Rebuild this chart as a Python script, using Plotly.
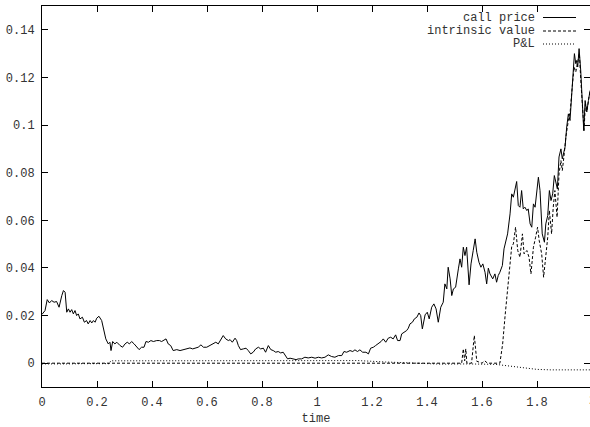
import plotly.graph_objects as go

# Call option simulation: price, intrinsic value and hedging P&L over time
call_t = [0.000, 0.011, 0.019, 0.027, 0.035, 0.044, 0.053, 0.062, 0.072, 0.078,
          0.084, 0.090, 0.096, 0.102, 0.108, 0.114, 0.120, 0.126, 0.132, 0.138,
          0.147, 0.154, 0.162, 0.168, 0.175, 0.181, 0.187, 0.193, 0.199, 0.207,
          0.217, 0.223, 0.232, 0.241, 0.247, 0.251, 0.257, 0.265, 0.272, 0.284,
          0.293, 0.302, 0.310, 0.318, 0.326, 0.335, 0.344, 0.353, 0.362, 0.371,
          0.378, 0.387, 0.396, 0.405, 0.417, 0.427, 0.435, 0.444, 0.451, 0.459,
          0.468, 0.477, 0.490, 0.502, 0.514, 0.526, 0.538, 0.548, 0.556, 0.568,
          0.578, 0.587, 0.599, 0.611, 0.623, 0.632, 0.641, 0.653, 0.659, 0.668,
          0.678, 0.684, 0.692, 0.702, 0.708, 0.714, 0.722, 0.732, 0.742, 0.750,
          0.759, 0.768, 0.777, 0.787, 0.795, 0.805, 0.813, 0.823, 0.832, 0.841,
          0.850, 0.859, 0.868, 0.877, 0.886, 0.893, 0.902, 0.914, 0.924, 0.932,
          0.944, 0.956, 0.968, 0.981, 0.993, 1.005, 1.017, 1.029, 1.041, 1.053,
          1.065, 1.078, 1.090, 1.098, 1.108, 1.120, 1.130, 1.138, 1.147, 1.156,
          1.166, 1.178, 1.187, 1.195, 1.205, 1.213, 1.223, 1.233, 1.241, 1.250,
          1.259, 1.268, 1.277, 1.286, 1.293, 1.302, 1.308, 1.316, 1.326, 1.332,
          1.338, 1.347, 1.354, 1.363, 1.371, 1.377, 1.383, 1.393, 1.401, 1.408,
          1.417, 1.425, 1.433, 1.441, 1.450, 1.459, 1.465, 1.472, 1.477, 1.484,
          1.490, 1.496, 1.504, 1.514, 1.520, 1.526, 1.532, 1.538, 1.544, 1.553,
          1.560, 1.568, 1.575, 1.581, 1.589, 1.596, 1.603, 1.611, 1.617, 1.623,
          1.629, 1.639, 1.647, 1.653, 1.659, 1.665, 1.674, 1.680, 1.693, 1.702,
          1.708, 1.714, 1.720, 1.726, 1.732, 1.738, 1.744, 1.750, 1.756, 1.763,
          1.768, 1.775, 1.781, 1.787, 1.793, 1.799, 1.805, 1.811, 1.815, 1.819,
          1.827, 1.832, 1.839, 1.845, 1.851, 1.857, 1.863, 1.869, 1.874, 1.880,
          1.887, 1.892, 1.897, 1.902, 1.908, 1.914, 1.920, 1.926, 1.932, 1.936,
          1.941, 1.944, 1.948, 1.953, 1.959, 1.965, 1.970, 1.975, 1.981, 1.987,
          1.993, 2.000]
call_price = [0.0205, 0.0221, 0.0267, 0.0253, 0.0263, 0.0256, 0.0259, 0.0235, 0.0284, 0.0305,
              0.0298, 0.0214, 0.0228, 0.0214, 0.0225, 0.0207, 0.0221, 0.0200, 0.0207, 0.0186,
              0.0193, 0.0172, 0.0179, 0.0165, 0.0179, 0.0169, 0.0179, 0.0172, 0.0189, 0.0197,
              0.0179, 0.0144, 0.0102, 0.0081, 0.0088, 0.0053, 0.0091, 0.0081, 0.0088, 0.0074,
              0.0067, 0.0081, 0.0088, 0.0081, 0.0091, 0.0081, 0.0067, 0.0057, 0.0067, 0.0067,
              0.0091, 0.0088, 0.0095, 0.0091, 0.0095, 0.0095, 0.0091, 0.0099, 0.0102, 0.0081,
              0.0074, 0.0053, 0.0057, 0.0053, 0.0057, 0.0060, 0.0064, 0.0060, 0.0063, 0.0067,
              0.0077, 0.0067, 0.0067, 0.0074, 0.0081, 0.0088, 0.0081, 0.0109, 0.0116, 0.0102,
              0.0095, 0.0099, 0.0088, 0.0105, 0.0095, 0.0074, 0.0057, 0.0060, 0.0063, 0.0053,
              0.0039, 0.0046, 0.0060, 0.0067, 0.0060, 0.0063, 0.0046, 0.0074, 0.0057, 0.0053,
              0.0046, 0.0049, 0.0043, 0.0046, 0.0032, 0.0018, 0.0021, 0.0018, 0.0015, 0.0018,
              0.0018, 0.0025, 0.0022, 0.0025, 0.0021, 0.0025, 0.0022, 0.0025, 0.0035, 0.0028,
              0.0025, 0.0032, 0.0032, 0.0049, 0.0046, 0.0053, 0.0049, 0.0056, 0.0049, 0.0056,
              0.0046, 0.0046, 0.0039, 0.0063, 0.0067, 0.0074, 0.0081, 0.0091, 0.0102, 0.0088,
              0.0105, 0.0109, 0.0102, 0.0119, 0.0095, 0.0095, 0.0123, 0.0130, 0.0137, 0.0147,
              0.0165, 0.0172, 0.0186, 0.0193, 0.0211, 0.0200, 0.0144, 0.0203, 0.0214, 0.0186,
              0.0235, 0.0249, 0.0228, 0.0172, 0.0235, 0.0256, 0.0333, 0.0312, 0.0403, 0.0354,
              0.0284, 0.0312, 0.0319, 0.0396, 0.0438, 0.0403, 0.0487, 0.0452, 0.0487, 0.0329,
              0.0417, 0.0473, 0.0522, 0.0466, 0.0424, 0.0403, 0.0417, 0.0382, 0.0333, 0.0399,
              0.0375, 0.0354, 0.0375, 0.0340, 0.0368, 0.0382, 0.0410, 0.0480, 0.0543, 0.0627,
              0.0711, 0.0697, 0.0725, 0.0763, 0.0662, 0.0655, 0.0725, 0.0648, 0.0655, 0.0641,
              0.0648, 0.0585, 0.0571, 0.0669, 0.0655, 0.0725, 0.0781, 0.0725, 0.0641, 0.0543,
              0.0508, 0.0585, 0.0620, 0.0725, 0.0683, 0.0711, 0.0788, 0.0760, 0.0732, 0.0866,
              0.0900, 0.0858, 0.0887, 0.0908, 0.0992, 0.1047, 0.1019, 0.1132, 0.1229, 0.1300,
              0.1258, 0.1271, 0.1244, 0.1321, 0.1229, 0.1103, 0.0977, 0.1103, 0.1055, 0.1103,
              0.1145, 0.1150]

intrinsic_t = [0.000, 1.526, 1.532, 1.537, 1.541, 1.545, 1.562, 1.572, 1.581, 1.600,
               1.610, 1.620, 1.665, 1.675, 1.684, 1.693, 1.700, 1.708, 1.714, 1.722,
               1.730, 1.738, 1.747, 1.753, 1.763, 1.771, 1.778, 1.787, 1.795, 1.802,
               1.808, 1.817, 1.824, 1.832, 1.839, 1.845, 1.853, 1.859, 1.865, 1.873,
               1.880, 1.887, 1.892, 1.899, 1.905, 1.914, 1.921, 1.928, 1.935, 1.941,
               1.948, 1.954, 1.960, 1.966, 1.971, 1.976, 1.982, 1.989, 1.993, 2.000]
intrinsic_value = [0.0000, 0.0000, 0.0060, 0.0010, 0.0060, 0.0000, 0.0000, 0.0116, 0.0008, 0.0000,
                   0.0010, 0.0000, 0.0000, 0.0080, 0.0200, 0.0300, 0.0380, 0.0490, 0.0501, 0.0571,
                   0.0473, 0.0445, 0.0543, 0.0459, 0.0473, 0.0445, 0.0375, 0.0487, 0.0529, 0.0571,
                   0.0515, 0.0459, 0.0361, 0.0459, 0.0529, 0.0641, 0.0543, 0.0655, 0.0725, 0.0613,
                   0.0795, 0.0851, 0.0809, 0.0879, 0.0950, 0.1019, 0.1061, 0.1160, 0.1244, 0.1223,
                   0.1271, 0.1300, 0.1174, 0.1061, 0.0977, 0.1089, 0.1061, 0.1118, 0.1139, 0.1145]

pnl_t = [0.00, 0.05, 0.10, 0.15, 0.20, 0.245, 0.25, 0.50, 0.90, 1.15,
         1.25, 1.35, 1.45, 1.55, 1.65, 1.70, 1.75, 1.80, 1.85, 2.00]
pnl = [-0.0003, -0.0004, -0.0003, -0.0002, -0.0002, -0.0002, 0.0010, 0.0011, 0.0011, 0.0011,
       0.0005, 0.0000, -0.0004, -0.0003, -0.0005, -0.0012, -0.0020, -0.0026, -0.0028, -0.0028]

x_ticks = [0, 0.2, 0.4, 0.6, 0.8, 1, 1.2, 1.4, 1.6, 1.8, 2]
x_tick_text = ["0", "0.2", "0.4", "0.6", "0.8", "1", "1.2", "1.4", "1.6", "1.8", "2"]
y_ticks = [0, 0.02, 0.04, 0.06, 0.08, 0.1, 0.12, 0.14]
y_tick_text = ["0", "0.02", "0.04", "0.06", "0.08", "0.1", "0.12", "0.14"]

series_names = ["call price", "intrinsic value", "P&L"]
series_dash = ["solid", "3px,2px", "1px,2px"]

FONT = "Liberation Mono, Courier New, monospace"
TEXT_COLOR = "#333"

fig = go.Figure()
for name, xs, ys, dash in zip(series_names,
                              [call_t, intrinsic_t, pnl_t],
                              [call_price, intrinsic_value, pnl],
                              series_dash):
    fig.add_trace(go.Scatter(x=xs, y=ys, mode="lines", name=name,
                             line=dict(color="black", width=1, dash=dash),
                             showlegend=False))

# gnuplot-style key: right-aligned labels followed by line samples
L, T, W, H = 42, 6, 548, 381
def px(x):
    return (x - L) / W
def py(y):
    return (T + H - y) / H

key_rows = [17.5, 31.0, 44.0]
for name, dash, yr in zip(series_names, series_dash, key_rows):
    fig.add_annotation(x=px(537), y=py(yr), xref="paper", yref="paper",
                       text=name, showarrow=False, xanchor="right", yanchor="middle",
                       font=dict(family=FONT, size=12, color=TEXT_COLOR))
    fig.add_shape(type="line", xref="paper", yref="paper",
                  x0=px(543), x1=px(576), y0=py(yr), y1=py(yr),
                  line=dict(color="black", width=1, dash=dash))

# last x tick label sits on the clipped right edge of the frame
fig.add_annotation(x=px(592), y=py(401), xref="paper", yref="paper",
                   text=x_tick_text[-1], showarrow=False, xanchor="center", yanchor="middle",
                   font=dict(family=FONT, size=12, color=TEXT_COLOR))

axis_common = dict(showline=True, linecolor="black", linewidth=1, mirror="allticks",
                   ticks="inside", ticklen=6, tickcolor="black", tickwidth=1,
                   showgrid=False, zeroline=False,
                   tickfont=dict(family=FONT, size=12, color=TEXT_COLOR))

fig.update_xaxes(range=[0, 1.9927], tickmode="array", tickvals=x_ticks, ticktext=x_tick_text,
                 title=dict(text="time", font=dict(family=FONT, size=12, color=TEXT_COLOR), standoff=4),
                 ticklabelstandoff=4, **axis_common)
fig.update_yaxes(range=[-0.01, 0.15], tickmode="array", tickvals=y_ticks, ticktext=y_tick_text,
                 ticklabelstandoff=4, **axis_common)

fig.update_layout(width=590, height=427, margin=dict(l=L, r=0, t=T, b=427 - T - H),
                  plot_bgcolor="white", paper_bgcolor="white",
                  font=dict(family=FONT, size=12, color=TEXT_COLOR))

fig.write_html("out.html")
